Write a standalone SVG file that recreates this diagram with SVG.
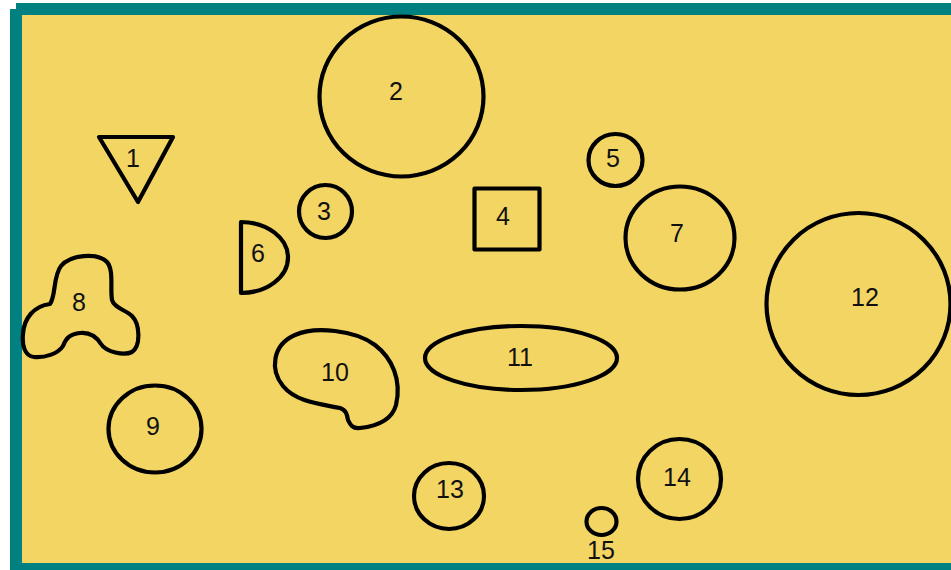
<svg xmlns="http://www.w3.org/2000/svg" width="951" height="570" viewBox="0 0 951 570">
<style>
.s{fill:none;stroke:#000;stroke-width:4.2;stroke-linejoin:round}
.t{font-family:"Liberation Sans",Arial,sans-serif;font-size:25px;fill:#111;text-anchor:middle}
</style>
<rect x="0" y="0" width="951" height="570" fill="#fff"/>
<rect x="16" y="3" width="935" height="12" fill="#008080"/>
<rect x="10" y="9" width="12" height="561" fill="#008080"/>
<rect x="10" y="563" width="941" height="7" fill="#008080"/>
<rect x="22" y="15" width="929" height="548" fill="#F3D564"/>
<g id="connectors"/>
<g id="n1"><polygon class="s" points="99,137 173,137 138,202"/><text class="t" x="133" y="167">1</text></g>
<g id="n2"><ellipse class="s" cx="401.5" cy="96.5" rx="82" ry="80"/><text class="t" x="396" y="100">2</text></g>
<g id="n3"><circle class="s" cx="325.5" cy="211.5" r="26.5"/><text class="t" x="324" y="220">3</text></g>
<g id="n4"><rect class="s" x="474.5" y="188.5" width="65" height="61"/><text class="t" x="503" y="225">4</text></g>
<g id="n5"><ellipse class="s" cx="615.5" cy="160" rx="27" ry="26"/><text class="t" x="613" y="167">5</text></g>
<g id="n6"><path class="s" d="M241,222 L241,293 A47,35.5 0 0 0 241,222 Z"/><text class="t" x="258" y="262">6</text></g>
<g id="n7"><ellipse class="s" cx="680" cy="238" rx="54.5" ry="51.5"/><text class="t" x="677" y="242">7</text></g>
<g id="n8"><path class="s" d="M50,304 C56,296 53,276 61,266 C70,255 97,252 107,262 C114,270 110,288 112,300 C114,308 126,310 132,316 C140,324 141,346 132,352 C124,356 106,352 101,344 C96,336 90,332 80,333 C70,334 66,338 63,346 C58,354 44,358 34,357 C24,356 22,344 23,334 C24,318 34,306 50,304 Z"/><text class="t" x="79" y="311">8</text></g>
<g id="n9"><ellipse class="s" cx="155" cy="429" rx="46.5" ry="43.5"/><text class="t" x="153" y="435">9</text></g>
<g id="n10"><path class="s" d="M283,386 C270,370 272,345 295,335 C315,326 355,330 375,345 C392,358 402,380 396,405 C392,420 378,426 360,428 C352,429 350,424 348,420 C347,414 346,410 340,408 C320,404 296,402 283,386 Z"/><text class="t" x="335" y="381">10</text></g>
<g id="n11"><ellipse class="s" cx="521" cy="358" rx="96" ry="32"/><text class="t" x="520" y="366">11</text></g>
<g id="n12"><ellipse class="s" cx="858.5" cy="304" rx="92" ry="91"/><text class="t" x="865" y="306">12</text></g>
<g id="n13"><ellipse class="s" cx="449" cy="496" rx="35" ry="33"/><text class="t" x="450" y="498">13</text></g>
<g id="n14"><ellipse class="s" cx="679.5" cy="479" rx="41.5" ry="40"/><text class="t" x="677" y="486">14</text></g>
<g id="n15"><ellipse class="s" cx="601.5" cy="521.5" rx="15" ry="13.5"/><text class="t" x="601" y="559">15</text></g>
</svg>
